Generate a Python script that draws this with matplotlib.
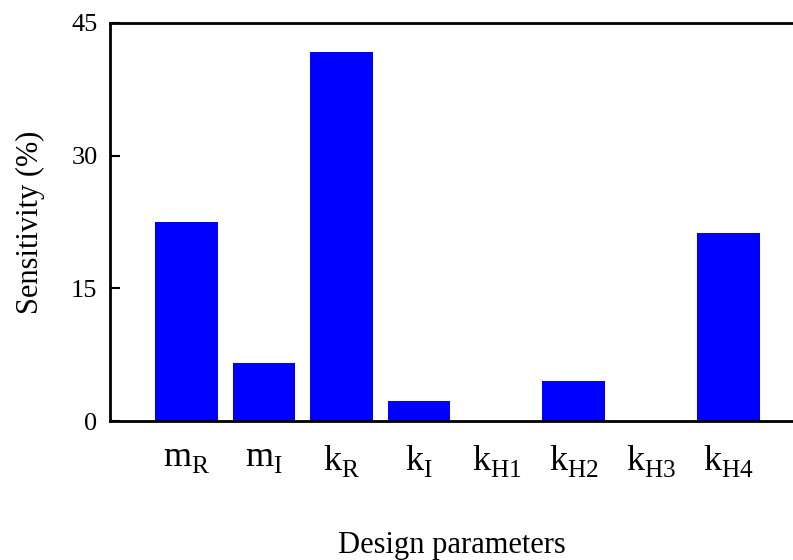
import numpy as np
import matplotlib
matplotlib.use("Agg")
import matplotlib.pyplot as plt
from matplotlib import _mathtext

plt.rcParams['font.family'] = ['Liberation Serif', 'DejaVu Serif']
plt.rcParams['mathtext.fontset'] = 'custom'
plt.rcParams['mathtext.rm'] = 'Liberation Serif'
plt.rcParams['mathtext.it'] = 'Liberation Serif:italic'
# drop the subscripts a bit lower, like the original labels
_mathtext.FontConstantsBase.sub1 = 0.45

params = [r'$\mathrm{m_R}$', r'$\mathrm{m_I}$', r'$\mathrm{k_R}$', r'$\mathrm{k_I}$',
          r'$\mathrm{k_{H1}}$', r'$\mathrm{k_{H2}}$', r'$\mathrm{k_{H3}}$', r'$\mathrm{k_{H4}}$']
sensitivity = [22.5, 6.55, 41.7, 2.25, 0.0, 4.5, 0.0, 21.3]
yticks = [0, 15, 30, 45]

fig = plt.figure(figsize=(7.93, 5.6), dpi=100)
ax = fig.add_axes([0.1387, 0.248, 0.8613, 0.711])

x = np.arange(len(params))
ax.bar(x, sensitivity, width=0.81, color='#0000ff')

ax.set_xlim(-0.99, 7.83)
ax.set_ylim(0, 45)
ax.set_yticks(yticks)
ax.set_xticks(x)
ax.set_xticklabels(params, fontsize=26)
ax.tick_params(axis='y', direction='in', length=7, width=1.5, labelsize=19, pad=9)
ax.tick_params(axis='x', length=0, pad=16)

for s in ['top', 'left', 'bottom']:
    ax.spines[s].set_linewidth(2)
ax.spines['right'].set_visible(False)

ax.set_ylabel('Sensitivity (%)', fontsize=22, labelpad=19)
ax.set_xlabel('Design parameters', fontsize=22, labelpad=37)

fig.savefig('out.png', dpi=100)
